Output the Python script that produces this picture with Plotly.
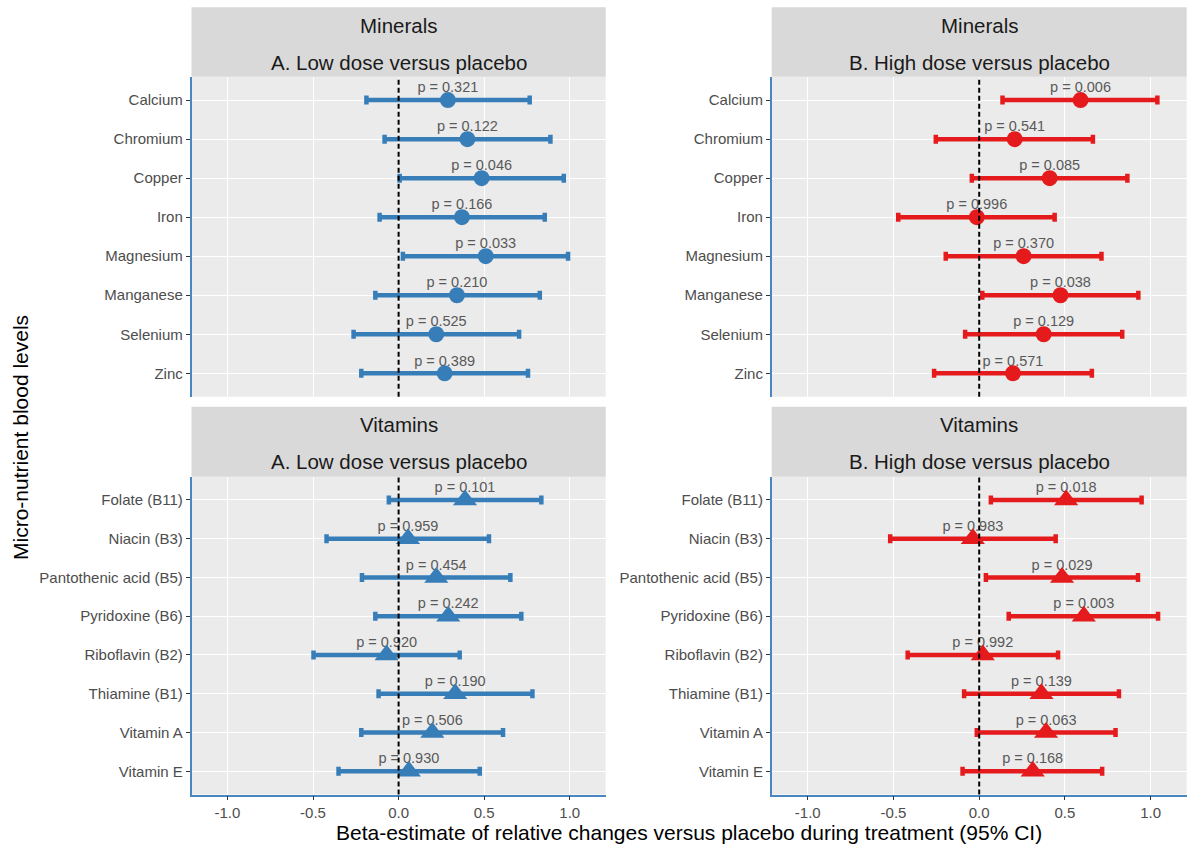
import plotly.graph_objects as go

W, H = 1188, 848

minerals = ["Calcium", "Chromium", "Copper", "Iron", "Magnesium", "Manganese", "Selenium", "Zinc"]
vitamins = ["Folate (B11)", "Niacin (B3)", "Pantothenic acid (B5)", "Pyridoxine (B6)",
            "Riboflavin (B2)", "Thiamine (B1)", "Vitamin A", "Vitamin E"]

min_low_est = [0.288, 0.402, 0.485, 0.370, 0.509, 0.341, 0.220, 0.269]
min_low_lo = [-0.188, -0.082, 0.006, -0.111, 0.025, -0.136, -0.263, -0.218]
min_low_hi = [0.766, 0.887, 0.965, 0.854, 0.990, 0.825, 0.704, 0.756]
min_low_p = ["0.321", "0.122", "0.046", "0.166", "0.033", "0.210", "0.525", "0.389"]

min_high_est = [0.591, 0.207, 0.411, -0.014, 0.259, 0.474, 0.376, 0.197]
min_high_lo = [0.136, -0.253, -0.043, -0.472, -0.195, 0.018, -0.082, -0.263]
min_high_hi = [1.039, 0.663, 0.864, 0.440, 0.713, 0.928, 0.834, 0.657]
min_high_p = ["0.006", "0.541", "0.085", "0.996", "0.370", "0.038", "0.129", "0.571"]

vit_low_est = [0.388, 0.055, 0.220, 0.290, -0.070, 0.331, 0.197, 0.060]
vit_low_lo = [-0.057, -0.421, -0.214, -0.136, -0.497, -0.117, -0.218, -0.351]
vit_low_hi = [0.834, 0.528, 0.653, 0.717, 0.357, 0.782, 0.610, 0.474]
vit_low_p = ["0.101", "0.959", "0.454", "0.242", "0.920", "0.190", "0.506", "0.930"]

vit_high_est = [0.507, -0.037, 0.483, 0.610, 0.021, 0.363, 0.390, 0.312]
vit_high_lo = [0.068, -0.519, 0.039, 0.172, -0.417, -0.088, -0.014, -0.097]
vit_high_hi = [0.947, 0.446, 0.926, 1.043, 0.460, 0.815, 0.795, 0.717]
vit_high_p = ["0.018", "0.983", "0.029", "0.003", "0.992", "0.139", "0.063", "0.168"]

x_ticks = [-1.0, -0.5, 0.0, 0.5, 1.0]
x_ticklabels = ["-1.0", "-0.5", "0.0", "0.5", "1.0"]

group_titles = ["Minerals", "Vitamins"]
dose_titles = ["A. Low dose versus placebo", "B. High dose versus placebo"]

BLUE = "#377EB8"
RED = "#E41A1C"
AXIS_BLUE = "#4A86C0"
FONT = "Liberation Sans, Arial, Helvetica, sans-serif"


def px_x(p):
    return p / W


def px_y(p):
    return 1 - p / H


col_px = [(191.5, 605.7), (771.7, 1186.7)]
row_panel_px = [(76.7, 396.7), (476.7, 794.5)]
row_strip_px = [(7.3, 76.7), (406.7, 476.7)]

panels = [
    dict(row=0, col=0, cats=minerals, est=min_low_est, lo=min_low_lo, hi=min_low_hi, p=min_low_p, color=BLUE, symbol="circle", size=16),
    dict(row=0, col=1, cats=minerals, est=min_high_est, lo=min_high_lo, hi=min_high_hi, p=min_high_p, color=RED, symbol="circle", size=16),
    dict(row=1, col=0, cats=vitamins, est=vit_low_est, lo=vit_low_lo, hi=vit_low_hi, p=vit_low_p, color=BLUE, symbol="triangle-up", size=21),
    dict(row=1, col=1, cats=vitamins, est=vit_high_est, lo=vit_high_lo, hi=vit_high_hi, p=vit_high_p, color=RED, symbol="triangle-up", size=21),
]

fig = go.Figure()
layout = {}
shapes = []
annotations = []

for i, pn in enumerate(panels):
    k = i + 1
    xa = "x" if k == 1 else f"x{k}"
    ya = "y" if k == 1 else f"y{k}"
    xkey = "xaxis" if k == 1 else f"xaxis{k}"
    ykey = "yaxis" if k == 1 else f"yaxis{k}"
    x0p, x1p = col_px[pn["col"]]
    y0p, y1p = row_panel_px[pn["row"]]
    bottom = pn["row"] == 1
    n = len(pn["cats"])

    layout[xkey] = dict(
        domain=[px_x(x0p), px_x(x1p)], anchor=ya, range=[-1.21, 1.21],
        tickmode="array", tickvals=x_ticks, ticktext=x_ticklabels,
        showticklabels=bottom, ticks="outside" if bottom else "",
        ticklen=4, tickwidth=1, tickcolor="#333333",
        tickfont=dict(size=15, color="#4D4D4D", family=FONT),
        showgrid=True, gridcolor="white", gridwidth=1.4,
        zeroline=False, showline=bottom, linecolor=AXIS_BLUE, linewidth=1.5,
        fixedrange=True, automargin=False,
    )
    layout[ykey] = dict(
        domain=[px_y(y1p), px_y(y0p)], anchor=xa, type="category",
        categoryorder="array", categoryarray=pn["cats"],
        range=[n - 1 + 0.6, -0.6],
        ticks="outside", ticklen=4, tickwidth=1, tickcolor="#333333",
        tickfont=dict(size=15, color="#4D4D4D", family=FONT),
        showgrid=True, gridcolor="white", gridwidth=1.4,
        zeroline=False, showline=True, linecolor=AXIS_BLUE, linewidth=1.5,
        fixedrange=True, automargin=False,
    )

    # p-value labels (drawn under the markers); invisible marker sets the text offset
    fig.add_trace(go.Scatter(
        x=pn["est"], y=pn["cats"], mode="markers+text",
        marker=dict(size=5, color="rgba(0,0,0,0)"),
        text=[f"p = {v}" for v in pn["p"]], textposition="top center",
        textfont=dict(size=14.5, color="#595959", family=FONT),
        xaxis=xa, yaxis=ya, showlegend=False, hoverinfo="skip", cliponaxis=False,
    ))
    # estimates with 95% CI
    plus = [h - e for h, e in zip(pn["hi"], pn["est"])]
    minus = [e - l for e, l in zip(pn["est"], pn["lo"])]
    fig.add_trace(go.Scatter(
        x=pn["est"], y=pn["cats"], mode="markers",
        marker=dict(color=pn["color"], symbol=pn["symbol"], size=pn["size"], line=dict(width=0)),
        error_x=dict(type="data", symmetric=False, array=plus, arrayminus=minus,
                     color=pn["color"], thickness=4.5, width=4.5),
        xaxis=xa, yaxis=ya, showlegend=False,
    ))
    # dashed reference line at zero
    shapes.append(dict(type="line", xref=xa, yref=f"{ya} domain", x0=0, x1=0, y0=0, y1=1,
                       line=dict(color="black", width=2, dash="5px,3px"), layer="above"))

# facet strips
for r in range(2):
    s0, s1 = row_strip_px[r]
    for c in range(2):
        x0p, x1p = col_px[c]
        shapes.append(dict(type="rect", xref="paper", yref="paper",
                           x0=px_x(x0p), x1=px_x(x1p), y0=px_y(s1), y1=px_y(s0),
                           fillcolor="#D9D9D9", line=dict(width=0), layer="below"))
        xc = px_x((x0p + x1p) / 2)
        annotations.append(dict(text=group_titles[r], xref="paper", yref="paper",
                                x=xc, y=px_y(s0 + 18), showarrow=False,
                                xanchor="center", yanchor="middle",
                                font=dict(size=20.5, color="#1A1A1A", family=FONT)))
        annotations.append(dict(text=dose_titles[c], xref="paper", yref="paper",
                                x=xc, y=px_y(s0 + 55), showarrow=False,
                                xanchor="center", yanchor="middle",
                                font=dict(size=20.5, color="#1A1A1A", family=FONT)))

# axis titles
annotations.append(dict(text="Beta-estimate of relative changes versus placebo during treatment (95% CI)",
                        xref="paper", yref="paper", x=px_x((191.5 + 1186.7) / 2), y=px_y(832),
                        showarrow=False, xanchor="center", yanchor="middle",
                        font=dict(size=21, color="black", family=FONT)))
annotations.append(dict(text="Micro-nutrient blood levels", xref="paper", yref="paper",
                        x=px_x(20), y=px_y(438), textangle=-90, showarrow=False,
                        xanchor="center", yanchor="middle",
                        font=dict(size=21, color="black", family=FONT)))

fig.update_layout(
    width=W, height=H, margin=dict(l=0, r=0, t=0, b=0),
    paper_bgcolor="white", plot_bgcolor="#EBEBEB",
    shapes=shapes, annotations=annotations, showlegend=False,
    font=dict(family=FONT),
    **layout,
)

fig.write_html("out.html",
               config={"displayModeBar": False},
               post_script="document.body.style.margin='0';document.body.style.overflow='hidden';")
